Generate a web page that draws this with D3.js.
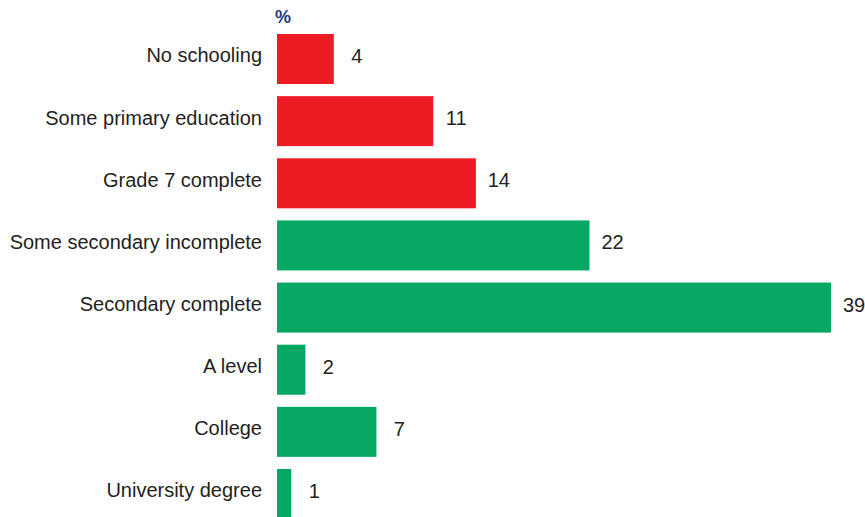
<!DOCTYPE html>
<html>
<head>
<meta charset="utf-8">
<script src="https://cdn.jsdelivr.net/npm/d3@7"></script>
<style>
  html, body { margin: 0; padding: 0; background: #ffffff; }
  svg { display: block; }
</style>
</head>
<body>
<div id="chart"></div>
<script>
// Education level categories, shares (%) and grouping
const categories = [
  "No schooling",
  "Some primary education",
  "Grade 7 complete",
  "Some secondary incomplete",
  "Secondary complete",
  "A level",
  "College",
  "University degree"
];
const values = [4, 11, 14, 22, 39, 2, 7, 1];
const groups = ["primary", "primary", "primary", "secondary", "secondary", "secondary", "secondary", "secondary"];
const unitLabel = "%";

const width = 865, height = 517;

const svg = d3.select("#chart").append("svg")
  .attr("width", width)
  .attr("height", height);

const data = categories.map((c, i) => ({ category: c, value: values[i], group: groups[i] }));

const x = d3.scaleLinear().domain([0, 39]).range([277, 831]);
const y = d3.scaleBand().domain(categories).range([34, 519]).paddingInner(0.195).paddingOuter(0);
const color = d3.scaleOrdinal().domain(["primary", "secondary"]).range(["#ED1C24", "#07A864"]);

const font = "'Liberation Sans', Arial, sans-serif";

// Bars
svg.append("g").selectAll("rect")
  .data(data)
  .join("rect")
  .attr("x", x(0))
  .attr("y", d => y(d.category))
  .attr("width", d => x(d.value) - x(0))
  .attr("height", y.bandwidth())
  .attr("fill", d => color(d.group));

// Category labels via a left axis with no line or ticks
const yAxis = svg.append("g")
  .attr("transform", `translate(${x(0) - 1},-3)`)
  .call(d3.axisLeft(y).tickSize(0).tickPadding(14));
yAxis.select(".domain").remove();
yAxis.selectAll("text")
  .attr("font-family", font)
  .attr("font-size", 20)
  .attr("fill", "#231f20");

// Value labels
svg.append("g").selectAll("text")
  .data(data)
  .join("text")
  .attr("x", d => x(d.value) + 23)
  .attr("y", d => y(d.category) + y.bandwidth() / 2 - 3)
  .attr("dy", "0.35em")
  .attr("text-anchor", "middle")
  .attr("font-family", font)
  .attr("font-size", 20)
  .attr("fill", "#231f20")
  .text(d => d.value);

// Unit label
svg.append("text")
  .attr("x", 275)
  .attr("y", 23)
  .attr("font-family", font)
  .attr("font-weight", "bold")
  .attr("font-size", 18)
  .attr("fill", "#1d3c78")
  .text(unitLabel);
</script>
</body>
</html>
